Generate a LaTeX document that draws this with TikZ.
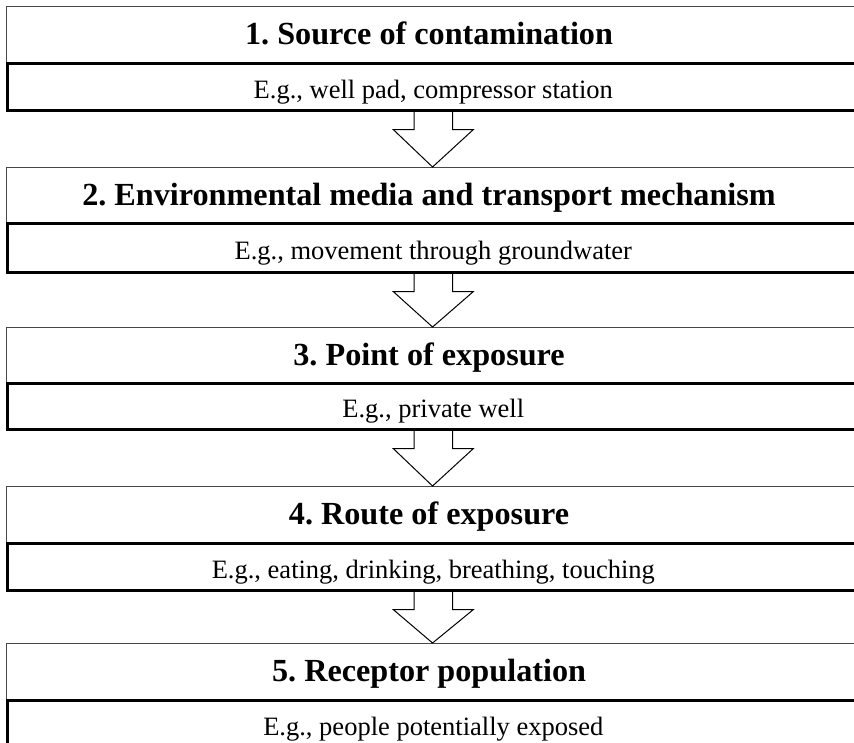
\documentclass[tikz,border=0pt]{standalone}
\usepackage{fontspec}
\setmainfont{Liberation Serif}
\usetikzlibrary{calc}
\begin{document}
\begin{tikzpicture}[x=1pt,y=-1pt,
  stage/.style={draw=black!72, line width=1.1pt, fill=white, anchor=north west,
    minimum width=852pt, inner sep=0pt, text height=20.6pt, text depth=0pt,
    font=\fontsize{32.2}{32.2}\selectfont\bfseries\frenchspacing,
    execute at end node={\kern7pt}},
  example/.style={draw=black, line width=2.6pt, fill=white, anchor=north west,
    minimum width=852pt, inner sep=0pt, text height=23pt, text depth=0pt,
    font=\fontsize{26.5}{26.5}\selectfont\frenchspacing},
  blockarrow/.style={draw=black, line width=1pt, line join=miter}
]
\useasboundingbox (0,0) rectangle (854,742);

% stage titles and their examples
\node[stage, minimum height=56pt] (t1) at (6,6) {1. Source of contamination};
\node[example, minimum height=47pt] (e1) at (6,62) {E.g., well pad, compressor station};

\node[stage, minimum height=55pt] (t2) at (6,167) {2. Environmental media and transport mechanism};
\node[example, minimum height=49pt] (e2) at (6,222) {E.g., movement through groundwater};

\node[stage, minimum height=55pt] (t3) at (6,327) {3. Point of exposure};
\node[example, minimum height=46pt] (e3) at (6,382) {E.g., private well};

\node[stage, minimum height=56pt] (t4) at (6,486) {4. Route of exposure};
\node[example, minimum height=47pt] (e4) at (6,542) {E.g., eating, drinking, breathing, touching};

\node[stage, minimum height=56pt] (t5) at (6,643) {5. Receptor population};
\node[example, minimum height=47pt] (e5) at (6,699) {E.g., people potentially exposed};

% hollow block arrows between consecutive stages
\foreach \a/\b in {e1/t2, e2/t3, e3/t4, e4/t5} {
  \draw[blockarrow]
    ($(\a.south)+(-19.2,0)$) -- ($(\a.south)+(-19.2,18)$)
    -- ($(\a.south)+(-40,18)$) -- (\b.north)
    -- ($(\a.south)+(40,18)$) -- ($(\a.south)+(19.2,18)$)
    -- ($(\a.south)+(19.2,0)$);
}
\end{tikzpicture}
\end{document}
